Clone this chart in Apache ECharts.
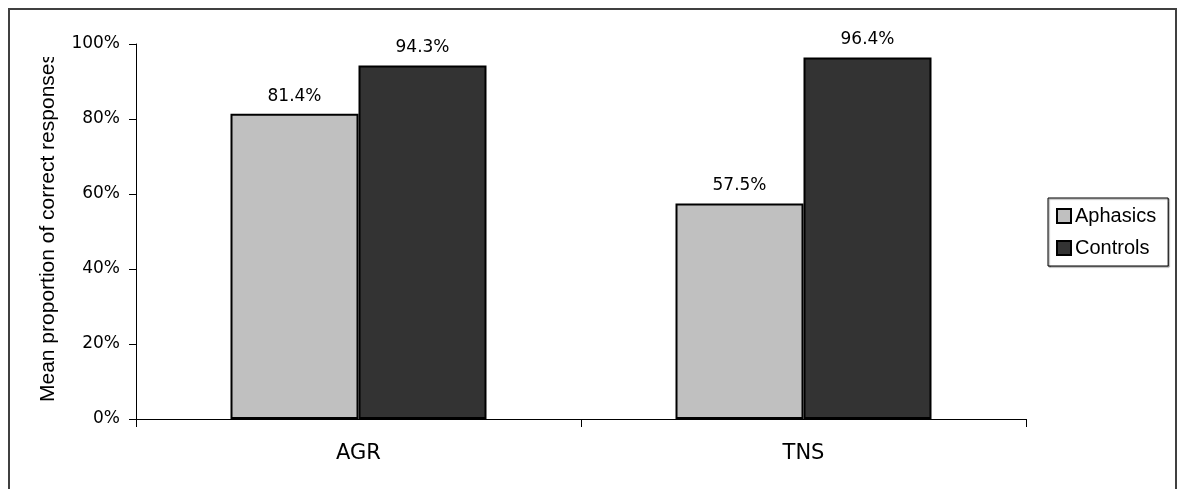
<!DOCTYPE html>
<html>
<head>
<meta charset="utf-8">
<script src="https://cdn.jsdelivr.net/npm/echarts@6/dist/echarts.min.js"></script>
<style>html,body{margin:0;padding:0;background:#fff;}#c{width:1178px;height:489px;}</style>
</head>
<body>
<div id="c"></div>
<script>
const categories = ['AGR', 'TNS'];
const seriesNames = ['Aphasics', 'Controls'];
const aphasics = [0.814, 0.575];
const controls = [0.943, 0.964];
const yTicks = [0, 0.2, 0.4, 0.6, 0.8, 1.0];
const yTitle = 'Mean proportion of correct responses';

const chart = echarts.init(document.getElementById('c'), null, {renderer: 'canvas'});
const pct = v => (v * 100).toFixed(1) + '%';
const labelCfg = {
  show: true, position: 'top', distance: 9,
  fontFamily: 'DejaVu Sans', fontSize: 17, color: '#000',
  formatter: p => pct(p.value)
};
chart.setOption({
  animation: false,
  backgroundColor: '#fff',
  grid: {left: 136, right: 152, top: 44, bottom: 70},
  legend: {
    orient: 'vertical', left: 1048, top: 198,
    data: seriesNames,
    borderColor: '#000', borderWidth: 1, backgroundColor: '#fff',
    padding: [8, 12, 8, 8],
    itemGap: 12, itemWidth: 14, itemHeight: 14, icon: 'rect',
    textStyle: {fontFamily: 'Liberation Sans', fontSize: 20, color: '#000', lineHeight: 20, padding: [0, 0, 0, -1]},
    shadowColor: 'rgba(0,0,0,0.45)', shadowOffsetX: 1, shadowOffsetY: 1, shadowBlur: 1
  },
  xAxis: {
    type: 'category', data: categories,
    axisLine: {lineStyle: {color: '#000', width: 1}},
    axisTick: {show: true, length: 8, lineStyle: {color: '#000'}},
    axisLabel: {fontFamily: 'DejaVu Sans', fontSize: 21, color: '#000', margin: 24}
  },
  yAxis: {
    type: 'value', min: 0, max: 1, interval: 0.2,
    axisLine: {show: true, lineStyle: {color: '#000', width: 1}},
    axisTick: {show: true, length: 7, lineStyle: {color: '#000'}},
    splitLine: {show: false},
    axisLabel: {
      fontFamily: 'DejaVu Sans', fontSize: 17, color: '#000', margin: 16,
      formatter: v => yTicks.some(t => Math.abs(t - v) < 1e-9) ? Math.round(v * 100) + '%' : ''
    }
  },
  series: [
    {
      name: seriesNames[0], type: 'bar', data: aphasics, barWidth: 128, barGap: '0%',
      itemStyle: {color: '#c0c0c0', borderColor: '#000', borderWidth: 2},
      label: labelCfg
    },
    {
      name: seriesNames[1], type: 'bar', data: controls, barWidth: 128, barGap: '0%',
      itemStyle: {color: '#333333', borderColor: '#000', borderWidth: 2},
      label: labelCfg
    }
  ],
  graphic: [
    {
      type: 'text', x: 48, y: 402, rotation: Math.PI / 2, z: 10,
      style: {text: yTitle, fontFamily: 'Liberation Sans', fontSize: 21, fill: '#000',
              textAlign: 'left', textVerticalAlign: 'middle'}
    },
    {
      type: 'rect', z: 11, shape: {x: 12, y: 11, width: 53, height: 46},
      style: {fill: '#fff'}
    },
    {
      type: 'rect', z: 12, shape: {x: 9, y: 9, width: 1167, height: 520},
      style: {fill: 'none', stroke: '#404040', lineWidth: 2}
    }
  ]
});
</script>
</body>
</html>
